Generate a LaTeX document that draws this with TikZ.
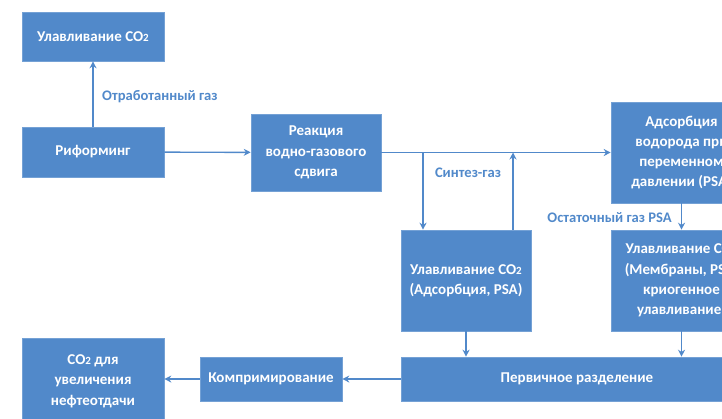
\documentclass[tikz,border=0pt]{standalone}
\usepackage{fontspec}
\setmainfont{Carlito}
\usetikzlibrary{arrows.meta}
\definecolor{flowblue}{HTML}{5189CA}
\newcommand{\cotwo}{CO{\fontsize{11pt}{11pt}\selectfont 2}}
\tikzset{
  procbox/.style={draw=flowblue!80!white, line width=0.6pt, fill=flowblue, text=white,
    font=\fontsize{15pt}{20.3pt}\selectfont\bfseries, align=center,
    inner sep=0pt, minimum width=#1},
  flow/.style={draw=flowblue, line width=1.4pt, -{Stealth[length=7pt,width=7pt]}},
  flowlabel/.style={text=flowblue, font=\fontsize{14.6pt}{16pt}\selectfont\bfseries, inner sep=0pt}
}
\begin{document}
\begin{tikzpicture}[x=1pt,y=-1pt]
\useasboundingbox (0,0) rectangle (722,418);
\clip (0,0) rectangle (722,418);
% process blocks
\node[procbox=142pt, minimum height=49pt] (cap1) at (93,36.5) {Улавливание \cotwo};
\node[procbox=142pt, minimum height=50pt] (reform) at (93,152) {Риформинг};
\node[procbox=130pt, minimum height=77pt] (shift) at (316,152.5) {Реакция\\водно-газового\\сдвига};
\node[procbox=141pt, minimum height=101pt] (psa) at (681.5,152.5) {Адсорбция\\водорода при\\переменном\\давлении (PSA)};
\node[procbox=130pt, minimum height=101pt] (capA) at (466,280.5) {Улавливание \cotwo\\(Адсорбция, PSA)};
\node[procbox=141pt, minimum height=101pt] (capB) at (681.5,280.5) {Улавливание \cotwo\\(Мембраны, PSA,\\криогенное\\улавливание)};
\node[procbox=352pt, minimum height=44pt] (prim) at (577,379) {Первичное разделение};
\node[procbox=142pt, minimum height=44pt] (comp) at (271,379) {Компримирование};
\node[procbox=142pt, minimum height=86pt] (eor) at (93,381) {\cotwo{} для\\увеличения\\нефтеотдачи};
% junction points on the syngas line
\coordinate (jdown) at (423,152.5);
\coordinate (jup) at (513,152.5);
% connectors
\draw[flow] (reform) -- (cap1);
\draw[flow] (reform) -- (shift);
\draw[flow] (shift.east) -- (psa.west |- shift.east);
\draw[flow] (jdown) -- (jdown |- capA.north);
\draw[flow] (jup |- capA.north) -- (jup);
\draw[flow] (psa) -- (capB);
\draw[flow] (capA.south) -- (capA.south |- prim.north);
\draw[flow] (capB.south) -- (capB.south |- prim.north);
\draw[flow] (prim) -- (comp);
\draw[flow] (comp) -- (eor.east |- comp.west);
% stream labels
\node[flowlabel, anchor=west] (l1) at (102,97) {Отработанный газ};
\node[flowlabel] (l2) at (468,172.5) {Синтез-газ};
\node[flowlabel, anchor=east] (l3) at (672,218) {Остаточный газ PSA};
\end{tikzpicture}
\end{document}
